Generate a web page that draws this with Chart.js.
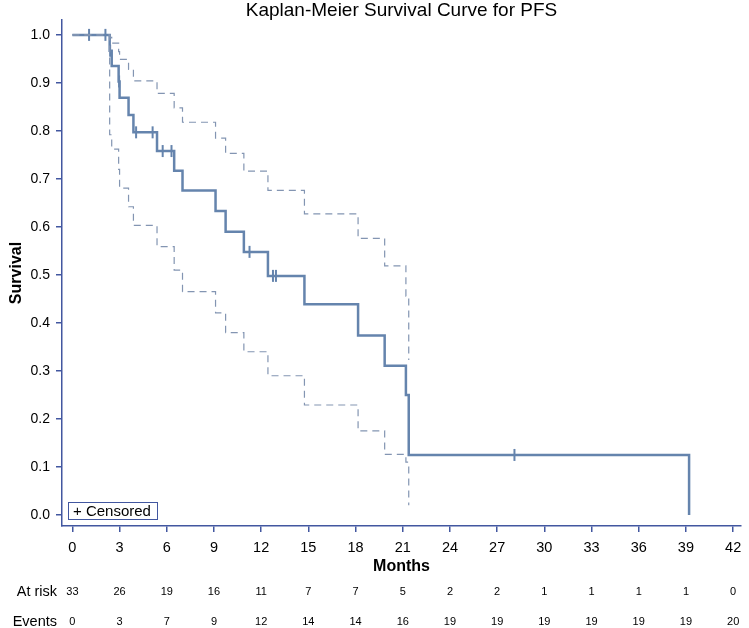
<!DOCTYPE html>
<html>
<head>
<meta charset="utf-8">
<script src="https://cdn.jsdelivr.net/npm/chart.js@4"></script>
<style>
  body { margin: 0; background: #fff; }
  canvas { display: block; }
</style>
</head>
<body>
<canvas id="km-chart" width="749" height="628"></canvas>
<script>
// Kaplan-Meier step data (months, survival after the step)
const kmTimes = [0, 2.37, 2.5, 2.94, 3.0, 3.57, 3.88, 5.38, 6.47, 7.0, 9.1, 9.74, 10.9, 12.43, 14.75, 18.16, 19.85, 21.2, 21.38, 39.2];
const kmSurvival = [1.0, 0.967, 0.935, 0.903, 0.869, 0.833, 0.797, 0.758, 0.717, 0.676, 0.633, 0.590, 0.548, 0.498, 0.439, 0.374, 0.311, 0.250, 0.125, 0.0];

// confidence band, same step times (ends at 21.38)
const upperCI = [1.0, 0.995, 0.983, 0.965, 0.949, 0.928, 0.904, 0.878, 0.848, 0.818, 0.785, 0.753, 0.716, 0.676, 0.627, 0.576, 0.519, 0.456, 0.323];
const lowerCI = [1.0, 0.792, 0.762, 0.720, 0.681, 0.642, 0.603, 0.559, 0.510, 0.465, 0.421, 0.380, 0.340, 0.290, 0.229, 0.175, 0.126, 0.110, 0.020];

// censored observations
const censorTimes = [1.06, 2.1, 2.4, 2.97, 4.05, 5.1, 5.74, 6.3, 11.26, 12.75, 12.94, 28.1];
const censorSurvival = [1.0, 1.0, 0.967, 0.903, 0.797, 0.797, 0.758, 0.758, 0.548, 0.498, 0.498, 0.125];

// axis ticks and risk table
const xTicks = [0, 3, 6, 9, 12, 15, 18, 21, 24, 27, 30, 33, 36, 39, 42];
const yTicks = [0, 0.1, 0.2, 0.3, 0.4, 0.5, 0.6, 0.7, 0.8, 0.9, 1.0];
const atRisk = [33, 26, 19, 16, 11, 7, 7, 5, 2, 2, 1, 1, 1, 1, 0];
const eventsCount = [0, 3, 7, 9, 12, 14, 14, 16, 19, 19, 19, 19, 19, 19, 20];

const FONT = "'Liberation Sans', Arial, sans-serif";
const lineColor = '#6584ad';
const ciColor = '#8395b2';
const axisColor = '#4257a0';

const overlay = {
    id: 'overlay',
    afterDraw(chart) {
        const ctx = chart.ctx;
        const area = chart.chartArea;
        const xs = chart.scales.x;
        const midX = (area.left + area.right) / 2;
        ctx.save();
        ctx.fillStyle = '#000';
        ctx.textBaseline = 'middle';

        // title
        ctx.textAlign = 'center';
        ctx.font = `19px ${FONT}`;
        ctx.fillText('Kaplan-Meier Survival Curve for PFS', midX, 11);

        // axis titles
        ctx.font = `bold 16px ${FONT}`;
        ctx.fillText('Months', midX, 567);
        ctx.save();
        ctx.translate(17, (area.top + area.bottom) / 2);
        ctx.rotate(-Math.PI / 2);
        ctx.fillText('Survival', 0, 0);
        ctx.restore();

        // risk table
        ctx.textAlign = 'right';
        ctx.font = `14.5px ${FONT}`;
        ctx.fillText('At risk', 57, 592);
        ctx.fillText('Events', 57, 622);
        ctx.textAlign = 'center';
        ctx.font = `11px ${FONT}`;
        xTicks.forEach((t, i) => {
            const px = xs.getPixelForValue(t);
            ctx.fillText(String(atRisk[i]), px, 592);
            ctx.fillText(String(eventsCount[i]), px, 622);
        });

        // censored legend box
        const bx = area.left + 6, by = area.bottom - 24, bw = 89, bh = 17;
        ctx.fillStyle = '#fff';
        ctx.fillRect(bx, by, bw, bh);
        ctx.strokeStyle = axisColor;
        ctx.lineWidth = 1;
        ctx.strokeRect(bx + 0.5, by + 0.5, bw, bh);
        ctx.fillStyle = '#000';
        ctx.textAlign = 'left';
        ctx.font = `15px ${FONT}`;
        ctx.fillText('+ Censored', bx + 5, by + bh / 2 + 1);
        ctx.restore();
    }
};

const ctx = document.getElementById('km-chart').getContext('2d');
new Chart(ctx, {
    type: 'line',
    data: {
        datasets: [
            {
                label: 'Upper CI',
                data: upperCI.map((v, i) => ({ x: kmTimes[i], y: v })),
                stepped: 'before',
                borderColor: ciColor,
                borderWidth: 1.2,
                borderDash: [7, 5],
                pointRadius: 0,
                fill: false
            },
            {
                label: 'Lower CI',
                data: lowerCI.map((v, i) => ({ x: kmTimes[i], y: v })),
                stepped: 'before',
                borderColor: ciColor,
                borderWidth: 1.2,
                borderDash: [7, 5],
                pointRadius: 0,
                fill: false
            },
            {
                label: 'Survival',
                data: kmSurvival.map((v, i) => ({ x: kmTimes[i], y: v })),
                stepped: 'before',
                borderColor: lineColor,
                borderWidth: 2.5,
                pointRadius: 0,
                fill: false
            },
            {
                label: 'Censored',
                data: censorSurvival.map((v, i) => ({ x: censorTimes[i], y: v })),
                showLine: false,
                pointStyle: 'line',
                rotation: 90,
                pointRadius: 6,
                pointHoverRadius: 6,
                pointBorderWidth: 2,
                pointBorderColor: lineColor,
                borderColor: lineColor
            }
        ]
    },
    options: {
        responsive: false,
        animation: false,
        layout: { padding: { left: 0, right: 4, top: 20, bottom: 0 } },
        plugins: {
            legend: { display: false },
            title: { display: false },
            tooltip: { enabled: false }
        },
        scales: {
            x: {
                type: 'linear',
                min: -0.66,
                max: 42.5,
                afterBuildTicks: scale => { scale.ticks = xTicks.map(v => ({ value: v })); },
                afterFit: scale => { scale.height = 102; },
                grid: { drawOnChartArea: false, drawTicks: true, tickLength: 6, color: axisColor, lineWidth: 1.5 },
                border: { display: true, color: axisColor, width: 1.5 },
                ticks: { color: '#000', padding: 7, font: { family: FONT, size: 14.5 }, maxRotation: 0, autoSkip: false }
            },
            y: {
                type: 'linear',
                min: -0.023,
                max: 1.031,
                afterBuildTicks: scale => { scale.ticks = yTicks.map(v => ({ value: v })); },
                afterFit: scale => { scale.width = 62; },
                grid: { drawOnChartArea: false, drawTicks: true, tickLength: 6, color: axisColor, lineWidth: 1.5 },
                border: { display: true, color: axisColor, width: 1.5 },
                ticks: {
                    color: '#000',
                    padding: 6,
                    font: { family: FONT, size: 14 },
                    callback: v => v.toFixed(1)
                }
            }
        }
    },
    plugins: [overlay]
});
</script>
</body>
</html>
